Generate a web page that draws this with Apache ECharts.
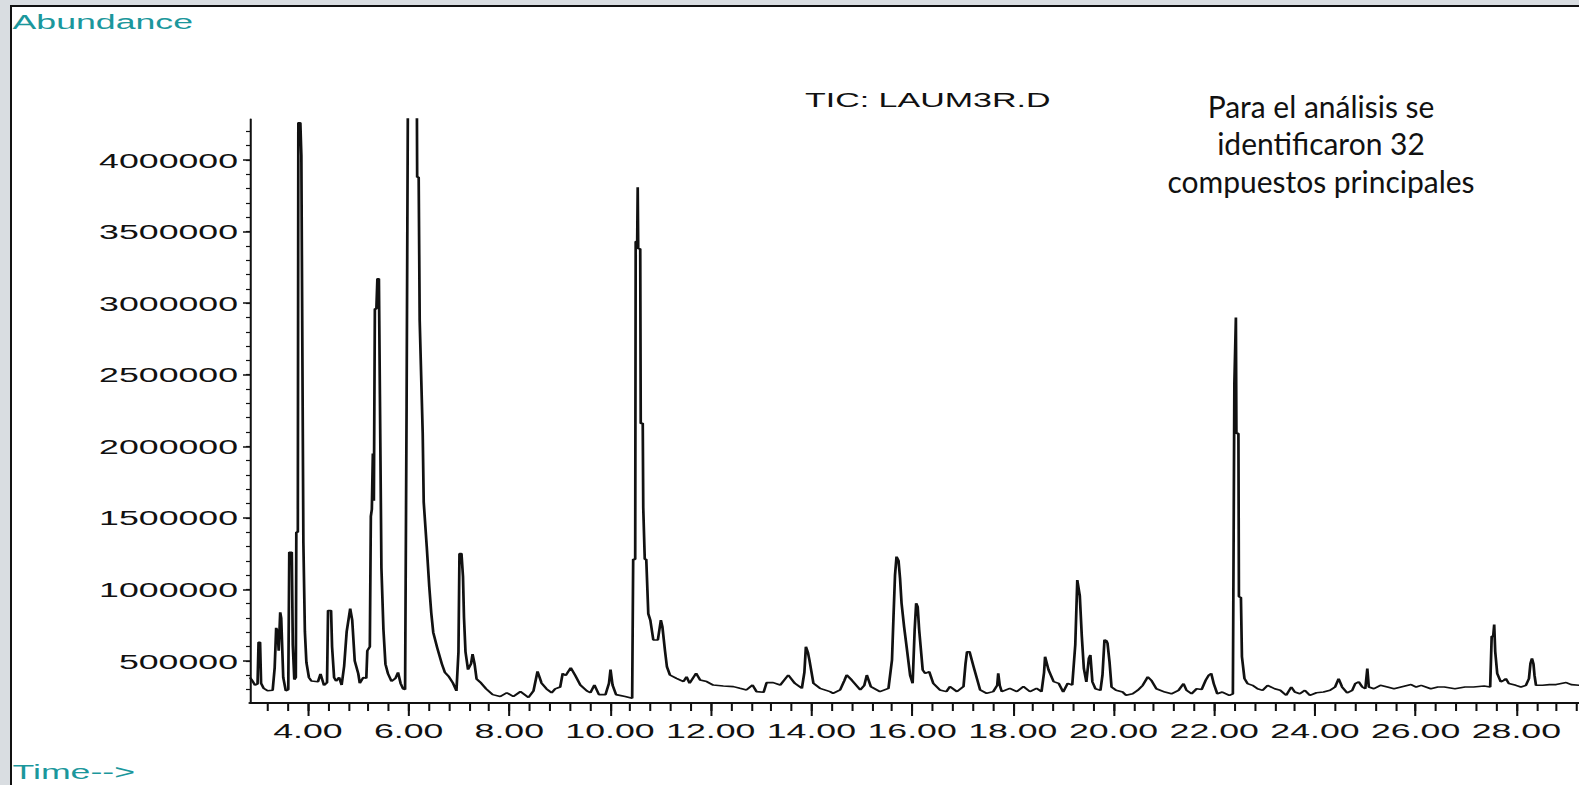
<!DOCTYPE html>
<html>
<head>
<meta charset="utf-8">
<title>TIC: LAUM3R.D</title>
<script src="https://cdn.jsdelivr.net/npm/echarts@6.0.0/dist/echarts.min.js"></script>
<style>
  html, body { margin: 0; padding: 0; }
  body { width: 1579px; height: 785px; background: #d9dde1; position: relative; overflow: hidden; }
  #paper { position: absolute; left: 10px; top: 5px; right: 0; bottom: 0; background: #fff;
           border-left: 2px solid #111; border-top: 2px solid #111; }
  /* the scanned chromatogram is stretched sideways, so the chart is drawn narrow and widened */
  #chart { position: absolute; left: 0; top: 0; width: 929px; height: 785px;
           transform: scaleX(1.7); transform-origin: 0 0; }
</style>
</head>
<body>
<div id="paper"></div>
<div id="chart"></div>
<script>
  const STRETCH = 1.7;

  // retention time (min)
  const retentionTime = [
    2.85, 2.90, 2.95, 3.00, 3.02, 3.05, 3.07, 3.12, 3.20, 3.30, 3.34, 3.37, 3.40, 3.42, 3.45, 3.47,
    3.51, 3.56, 3.61, 3.63, 3.68, 3.70, 3.73, 3.76, 3.77, 3.80, 3.81, 3.85, 3.87, 3.89, 3.91, 3.94,
    3.97, 4.02, 4.07, 4.20, 4.25, 4.32, 4.38, 4.40, 4.46, 4.48, 4.52, 4.56, 4.62, 4.67, 4.72, 4.77,
    4.84, 4.88, 4.93, 5.00, 5.03, 5.10, 5.16, 5.18, 5.23, 5.25, 5.27, 5.29, 5.31, 5.33, 5.36, 5.38,
    5.41, 5.43, 5.46, 5.50, 5.54, 5.59, 5.66, 5.74, 5.79, 5.84, 5.89, 5.93, 5.96, 5.98, 6.00, 6.15,
    6.17, 6.20, 6.22, 6.28, 6.30, 6.36, 6.41, 6.45, 6.49, 6.57, 6.66, 6.72, 6.80, 6.88, 6.95, 6.99,
    7.01, 7.05, 7.08, 7.10, 7.13, 7.18, 7.24, 7.27, 7.31, 7.35, 7.44, 7.54, 7.67, 7.82, 7.95, 8.08,
    8.22, 8.38, 8.48, 8.56, 8.64, 8.74, 8.84, 8.91, 9.01, 9.06, 9.12, 9.22, 9.31, 9.41, 9.54, 9.61,
    9.69, 9.78, 9.91, 9.98, 10.01, 10.05, 10.12, 10.30, 10.44, 10.46, 10.50, 10.51, 10.54, 10.55, 10.56, 10.60,
    10.61, 10.65, 10.66, 10.68, 10.69, 10.72, 10.76, 10.80, 10.86, 10.95, 11.01, 11.04, 11.09, 11.13, 11.19, 11.32,
    11.46, 11.52, 11.58, 11.71, 11.79, 11.92, 12.05, 12.25, 12.45, 12.58, 12.71, 12.83, 12.91, 13.05, 13.11, 13.24,
    13.38, 13.54, 13.67, 13.81, 13.86, 13.89, 13.93, 13.96, 14.04, 14.17, 14.37, 14.43, 14.57, 14.65, 14.70, 14.80,
    14.97, 15.05, 15.10, 15.18, 15.36, 15.53, 15.60, 15.63, 15.66, 15.69, 15.73, 15.76, 15.79, 15.84, 15.89, 15.96,
    16.01, 16.05, 16.08, 16.11, 16.14, 16.21, 16.26, 16.34, 16.42, 16.55, 16.68, 16.75, 16.89, 17.02, 17.06, 17.09,
    17.14, 17.22, 17.35, 17.48, 17.61, 17.69, 17.71, 17.74, 17.78, 17.94, 18.08, 18.21, 18.34, 18.47, 18.57, 18.62,
    18.64, 18.71, 18.81, 18.91, 19.00, 19.09, 19.18, 19.24, 19.28, 19.30, 19.33, 19.37, 19.41, 19.46, 19.51, 19.54,
    19.58, 19.64, 19.74, 19.78, 19.82, 19.86, 19.88, 19.92, 19.96, 20.05, 20.18, 20.25, 20.38, 20.48, 20.58, 20.68,
    20.75, 20.85, 21.02, 21.15, 21.29, 21.39, 21.45, 21.55, 21.65, 21.75, 21.83, 21.89, 21.94, 21.99, 22.06, 22.16,
    22.30, 22.37, 22.40, 22.42, 22.43, 22.44, 22.48, 22.49, 22.53, 22.55, 22.60, 22.66, 22.76, 22.86, 22.96, 23.06,
    23.20, 23.31, 23.43, 23.53, 23.60, 23.70, 23.80, 23.90, 24.03, 24.17, 24.30, 24.40, 24.47, 24.54, 24.64, 24.74,
    24.80, 24.87, 24.94, 25.00, 25.04, 25.07, 25.17, 25.30, 25.44, 25.57, 25.71, 25.91, 26.01, 26.11, 26.30, 26.44,
    26.57, 26.78, 26.98, 27.15, 27.36, 27.48, 27.51, 27.54, 27.56, 27.58, 27.62, 27.69, 27.75, 27.79, 27.85, 27.99,
    28.09, 28.19, 28.25, 28.28, 28.31, 28.34, 28.36, 28.39, 28.52, 28.66, 28.79, 28.89, 28.99, 29.09, 29.25
  ];

  // total ion current
  const abundance = [
    385000, 360000, 331000, 340000, 631000, 631000, 345000, 310000, 292000, 295000, 452000, 732000, 700000, 572000, 840000, 800000,
    385000, 292000, 300000, 1260000, 1260000, 612000, 370000, 385000, 1400000, 1400000, 4260000, 4260000, 4030000, 4030000, 1330000, 705000,
    490000, 385000, 360000, 355000, 410000, 330000, 350000, 853000, 853000, 600000, 385000, 360000, 385000, 332000, 465000, 705000,
    866000, 786000, 500000, 412000, 345000, 385000, 380000, 572000, 600000, 1510000, 1560000, 1950000, 1620000, 2960000, 2960000, 3170000,
    3170000, 2360000, 1150000, 720000, 478000, 412000, 358000, 380000, 420000, 345000, 305000, 300000, 2280000, 2280000, 5600000, 5600000,
    3880000, 3880000, 2880000, 2090000, 1610000, 1300000, 1020000, 835000, 698000, 590000, 480000, 420000, 390000, 346000, 291000, 563000,
    1250000, 1250000, 1090000, 802000, 563000, 440000, 480000, 549000, 480000, 374000, 346000, 305000, 265000, 252000, 278000, 252000,
    286000, 245000, 291000, 427000, 346000, 305000, 278000, 305000, 318000, 413000, 399000, 453000, 399000, 332000, 291000, 278000,
    332000, 265000, 265000, 346000, 440000, 332000, 265000, 252000, 240000, 1210000, 1210000, 3430000, 3430000, 3810000, 3380000, 3380000,
    2160000, 2160000, 1570000, 1570000, 1210000, 1210000, 830000, 786000, 647000, 647000, 786000, 740000, 577000, 460000, 402000, 379000,
    356000, 390000, 344000, 414000, 367000, 356000, 332000, 325000, 321000, 309000, 298000, 332000, 286000, 281000, 349000, 349000,
    332000, 402000, 344000, 309000, 420000, 600000, 560000, 507000, 344000, 309000, 286000, 274000, 298000, 360000, 402000, 367000,
    298000, 330000, 402000, 321000, 286000, 309000, 507000, 810000, 1100000, 1229000, 1200000, 1078000, 903000, 740000, 600000, 400000,
    344000, 717000, 903000, 880000, 717000, 437000, 414000, 425000, 344000, 298000, 286000, 321000, 286000, 321000, 480000, 565000,
    565000, 460000, 298000, 274000, 286000, 330000, 414000, 330000, 286000, 309000, 286000, 321000, 286000, 309000, 286000, 420000,
    530000, 437000, 356000, 344000, 283000, 344000, 332000, 613000, 1066000, 1066000, 955000, 672000, 448000, 354000, 519000, 542000,
    354000, 306000, 295000, 401000, 648000, 640000, 625000, 495000, 318000, 295000, 283000, 260000, 271000, 295000, 330000, 389000,
    365000, 306000, 283000, 271000, 295000, 342000, 295000, 271000, 306000, 301000, 365000, 401000, 413000, 342000, 271000, 283000,
    260000, 271000, 2440000, 2440000, 2900000, 2090000, 2090000, 950000, 943000, 530000, 377000, 342000, 330000, 306000, 295000, 330000,
    306000, 295000, 260000, 318000, 283000, 271000, 295000, 260000, 278000, 283000, 295000, 318000, 377000, 318000, 278000, 295000,
    342000, 354000, 318000, 306000, 448000, 318000, 306000, 330000, 318000, 306000, 318000, 335000, 318000, 330000, 306000, 318000,
    318000, 306000, 318000, 318000, 325000, 318000, 672000, 672000, 754000, 566000, 413000, 354000, 365000, 377000, 342000, 330000,
    318000, 330000, 377000, 483000, 519000, 480000, 401000, 330000, 330000, 335000, 335000, 342000, 349000, 335000, 330000
  ];

  const xLabelTicks = [4, 6, 8, 10, 12, 14, 16, 18, 20, 22, 24, 26, 28];
  const xMinorTicks = [
    3.2, 3.6, 4.0, 4.4, 4.8, 5.2, 5.6, 6.0, 6.4, 6.8, 7.2, 7.6, 8.0, 8.4, 8.8, 9.2, 9.6, 10.0, 10.4, 10.8,
    11.2, 11.6, 12.0, 12.4, 12.8, 13.2, 13.6, 14.0, 14.4, 14.8, 15.2, 15.6, 16.0, 16.4, 16.8, 17.2, 17.6,
    18.0, 18.4, 18.8, 19.2, 19.6, 20.0, 20.4, 20.8, 21.2, 21.6, 22.0, 22.4, 22.8, 23.2, 23.6, 24.0, 24.4,
    24.8, 25.2, 25.6, 26.0, 26.4, 26.8, 27.2, 27.6, 28.0, 28.4, 28.8, 29.2
  ];
  const yLabelTicks = [500000, 1000000, 1500000, 2000000, 2500000, 3000000, 3500000, 4000000];
  const yMinorTicks = [
    300000, 400000, 500000, 600000, 700000, 800000, 900000, 1000000, 1100000, 1200000, 1300000, 1400000,
    1500000, 1600000, 1700000, 1800000, 1900000, 2000000, 2100000, 2200000, 2300000, 2400000, 2500000,
    2600000, 2700000, 2800000, 2900000, 3000000, 3100000, 3200000, 3300000, 3400000, 3500000, 3600000,
    3700000, 3800000, 3900000, 4000000, 4100000, 4200000
  ];

  const timeMin = 2.85, timeMax = 29.25;
  const abundanceMin = 206500, abundanceMax = 4286400;

  const ink = '#111';
  const teal = '#1b979c';
  const font = '"Liberation Sans", Arial, sans-serif';

  let chart = echarts.init(document.getElementById('chart'), null, {renderer: 'svg'});

  let series = [];
  for (let i = 0; i < retentionTime.length; i++) {
    series.push([retentionTime[i], abundance[i]]);
  }

  let option = {
    animation: false,
    backgroundColor: 'transparent',
    grid: {
      left: 250 / STRETCH,
      right: 0,
      top: 119,
      bottom: 82,
      containLabel: false,
      outerBoundsMode: 'none'
    },
    graphic: [
      {
        type: 'text', left: 12.5 / STRETCH, top: 11,
        style: {text: 'Abundance', fill: teal, fontSize: 21, fontFamily: font}
      },
      {
        type: 'text', left: 12.5 / STRETCH, top: 761,
        style: {text: 'Time-->', fill: teal, fontSize: 21, fontFamily: font}
      },
      {
        type: 'text', left: 805 / STRETCH, top: 90,
        style: {text: 'TIC: LAUM3R.D', fill: ink, fontSize: 20, fontFamily: font}
      },
      {
        // this note was typed over the picture, so it is not stretched
        type: 'text', x: 1321 / STRETCH, y: 87, scaleX: 1 / STRETCH,
        style: {
          text: 'Para el análisis se\nidentificaron 32\ncompuestos principales',
          fill: ink, fontSize: 30, fontFamily: 'Lato', lineHeight: 37.5,
          align: 'center', verticalAlign: 'top'
        }
      }
    ],
    xAxis: [
      {
        type: 'value', min: timeMin, max: timeMax, position: 'bottom',
        axisLine: {show: true, onZero: false, lineStyle: {color: ink, width: 2}},
        axisTick: {show: true, customValues: xLabelTicks, length: 13, lineStyle: {color: ink, width: 1.2}},
        axisLabel: {
          show: true, customValues: xLabelTicks, margin: 17, color: ink,
          fontSize: 21, fontFamily: font,
          formatter: function (v) { return v.toFixed(2); }
        },
        splitLine: {show: false}
      },
      {
        type: 'value', min: timeMin, max: timeMax, position: 'bottom',
        axisLine: {show: false},
        axisTick: {show: true, customValues: xMinorTicks, length: 8, lineStyle: {color: ink, width: 1.2}},
        axisLabel: {show: false},
        splitLine: {show: false}
      }
    ],
    yAxis: [
      {
        type: 'value', min: abundanceMin, max: abundanceMax, position: 'left',
        axisLine: {show: true, onZero: false, lineStyle: {color: ink, width: 1.2}},
        axisTick: {show: true, customValues: yLabelTicks, length: 7 / STRETCH, lineStyle: {color: ink, width: 1.5}},
        axisLabel: {
          show: true, customValues: yLabelTicks, margin: 12 / STRETCH, color: ink,
          fontSize: 21, fontFamily: font,
          formatter: function (v) { return String(v); }
        },
        splitLine: {show: false}
      },
      {
        type: 'value', min: abundanceMin, max: abundanceMax, position: 'left',
        axisLine: {show: false},
        axisTick: {show: true, customValues: yMinorTicks, length: 4 / STRETCH, lineStyle: {color: ink, width: 1.2}},
        axisLabel: {show: false},
        splitLine: {show: false}
      }
    ],
    series: [
      {
        name: 'TIC',
        type: 'line',
        xAxisIndex: 0,
        yAxisIndex: 0,
        data: series,
        symbol: 'none',
        clip: true,
        lineStyle: {color: ink, width: 1.6},
        emphasis: {disabled: true}
      }
    ]
  };

  chart.setOption(option);
</script>
</body>
</html>
